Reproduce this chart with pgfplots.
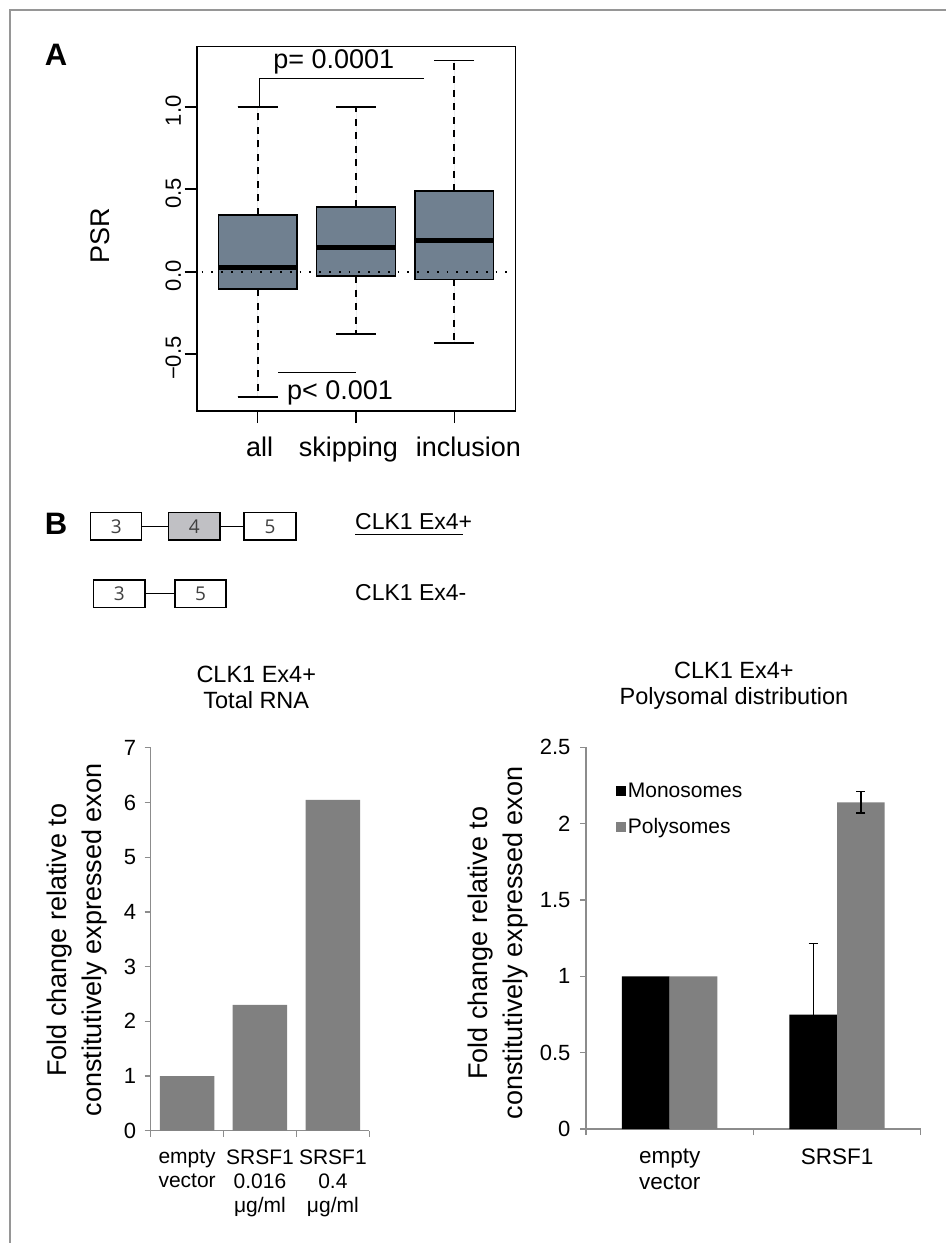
\documentclass[border=0pt]{standalone}
\usepackage{fontspec}
\setmainfont{Liberation Sans}
\newfontfamily\exonfont{Open Sans}
\usepackage{pgfplots}
\pgfplotsset{compat=1.18}
\usepgfplotslibrary{statistics}
\definecolor{slate}{RGB}{112,128,144}
\definecolor{bargray}{RGB}{128,128,128}
\definecolor{axgray}{RGB}{140,140,140}
\definecolor{exongray}{RGB}{192,192,196}
\definecolor{framegray}{RGB}{150,150,150}
\newcommand{\fs}[2]{\fontsize{#1bp}{#2bp}\selectfont}
\newcommand{\shifted}[2]{\makebox[0pt]{\hspace*{#1bp}#2\hspace*{-#1bp}}}
\pgfplotsset{ybar legend/.style={/pgfplots/legend image code/.code={\path[##1] (0bp,-5bp) rectangle (10bp,5bp);}}}

\begin{document}
\begin{tikzpicture}
\path[use as bounding box] (0bp,0bp) rectangle (946bp,-1243bp);
\draw[framegray, line width=1.5bp] (10bp,-1243bp) -- (10bp,-10bp) -- (946bp,-10bp);

% ---------------- Panel A ----------------
\node[font=\bfseries\fs{31}{31}] at (56bp,-55bp) {A};
\begin{axis}[
  at={(196.7bp,-411bp)}, anchor=south west,
  scale only axis, width=318.6bp, height=364.3bp,
  xmin=0.38, xmax=3.62, ymin=-0.844, ymax=1.364,
  axis line style={line width=1.6bp},
  xtick={1,2,3},
  xticklabels={\shifted{2}{all},\shifted{-7.5}{skipping},\shifted{14}{inclusion}},
  ytick={-0.5,0,0.5,1}, yticklabels={−0.5,0.0,0.5,1.0},
  tick align=outside, major tick length=12bp,
  tick style={line width=1.6bp, black},
  xtick pos=left, ytick pos=left,
  xticklabel style={font=\fs{27}{27}, yshift=-10bp},
  yticklabel style={font=\fs{22}{22}, rotate=90, anchor=south, xshift=-4bp},
  ylabel={PSR},
  ylabel style={font=\fs{27}{27}, at={(axis description cs:-0.303,0.48)}, anchor=center},
  boxplot/draw direction=y,
  clip=false,
]
\addplot[fill=slate, draw=black, line width=1.6bp,
  boxplot prepared={draw position=1, lower whisker=-0.758, lower quartile=-0.105,
    median=0.027, upper quartile=0.344, upper whisker=1.0, box extend=0.8, whisker extend=0.406},
  boxplot/every whisker/.style={dash pattern=on 7bp off 6.5bp, line width=1.7bp},
  boxplot/every median/.style={line width=5bp}] coordinates {};
\addplot[fill=slate, draw=black, line width=1.6bp,
  boxplot prepared={draw position=2, lower whisker=-0.378, lower quartile=-0.026,
    median=0.145, upper quartile=0.394, upper whisker=1.0, box extend=0.8, whisker extend=0.406},
  boxplot/every whisker/.style={dash pattern=on 7bp off 6.5bp, line width=1.7bp},
  boxplot/every median/.style={line width=5bp}] coordinates {};
\addplot[fill=slate, draw=black, line width=1.6bp,
  boxplot prepared={draw position=3, lower whisker=-0.432, lower quartile=-0.046,
    median=0.192, upper quartile=0.489, upper whisker=1.281, box extend=0.8, whisker extend=0.406},
  boxplot/every whisker/.style={dash pattern=on 7bp off 6.5bp, line width=1.7bp},
  boxplot/every median/.style={line width=5bp}] coordinates {};
% whisker caps (solid)
\addplot[black, line width=1.6bp] coordinates {(0.797,1.0) (1.203,1.0)};
\addplot[black, line width=1.6bp] coordinates {(0.797,-0.758) (1.203,-0.758)};
\addplot[black, line width=1.6bp] coordinates {(1.797,1.0) (2.203,1.0)};
\addplot[black, line width=1.6bp] coordinates {(1.797,-0.378) (2.203,-0.378)};
\addplot[black, line width=1.6bp] coordinates {(2.797,1.281) (3.203,1.281)};
\addplot[black, line width=1.6bp] coordinates {(2.797,-0.432) (3.203,-0.432)};
% zero reference line
\addplot[black, line width=1.8bp, dash pattern=on 1.8bp off 8bp] coordinates {(0.43,0) (3.6,0)};
% significance brackets
\addplot[black, line width=1.6bp] coordinates {(1.017,1.0) (1.017,1.172) (2.692,1.172)};
\addplot[black, line width=1.6bp] coordinates {(1.207,-0.61) (2.0,-0.61)};
\node[font=\fs{27}{27}] at (axis cs:1.774,1.271) {p= 0.0001};
\node[font=\fs{27}{27}] at (axis cs:1.837,-0.737) {p< 0.001};
\end{axis}

% ---------------- Panel B diagram ----------------
\node[font=\bfseries\fs{31}{31}] at (56bp,-524bp) {B};
\begin{scope}[line width=1.5bp]
\draw (141.7bp,-526.7bp) -- (168.3bp,-526.7bp);
\draw (220bp,-526.7bp) -- (244bp,-526.7bp);
\draw[fill=white] (90.7bp,-512.7bp) rectangle (141.7bp,-540bp);
\draw[fill=exongray] (168.3bp,-512.7bp) rectangle (220bp,-540bp);
\draw[fill=white] (244bp,-512.7bp) rectangle (296bp,-540bp);
\draw (145bp,-593.7bp) -- (175bp,-593.7bp);
\draw[fill=white] (93.3bp,-580bp) rectangle (145bp,-607.3bp);
\draw[fill=white] (175bp,-580bp) rectangle (226bp,-607.3bp);
\end{scope}
\begin{scope}[every node/.style={font=\exonfont\fs{19}{19}, text=black!75}]
\node at (116.2bp,-526.4bp) {3};
\node at (194.2bp,-526.4bp) {4};
\node at (270bp,-526.4bp) {5};
\node at (119.2bp,-593.7bp) {3};
\node at (200.5bp,-593.7bp) {5};
\end{scope}
\node[anchor=west, font=\fs{23}{23}, inner sep=0pt] at (355bp,-521.7bp) {CLK1 Ex4+};
\draw[line width=1.5bp] (355bp,-534.3bp) -- (463bp,-534.3bp);
\node[anchor=west, font=\fs{23}{23}, inner sep=0pt] at (355bp,-593bp) {CLK1 Ex4-};

% ---------------- Total RNA chart ----------------
\begin{axis}[
  at={(150.7bp,-1130.7bp)}, anchor=south west,
  scale only axis, width=218.6bp, height=382.9bp,
  xmin=0.5, xmax=3.5, ymin=0, ymax=7,
  ybar, bar width=54.5bp,
  axis x line*=bottom, axis y line*=left,
  axis line style={axgray, line width=1.3bp},
  tick align=outside, major tick length=6bp, minor tick length=6bp,
  tick style={axgray, line width=1.3bp},
  ytick={0,1,2,3,4,5,6,7}, yticklabels={0,1,2,3,4,5,6,7},
  xtick={1,2,3},
  xticklabels={{empty\\vector},{SRSF1\\0.016\\μg/ml},{SRSF1\\0.4\\μg/ml}},
  major x tick style={draw=none},
  minor xtick={0.5,1.5,2.5,3.5},
  yticklabel style={font=\fs{22}{22}, text=black, xshift=-5bp},
  xticklabel style={font=\fs{21}{24}, align=center, text=black, yshift=-10bp},
  ylabel={Fold change relative to\\constitutively expressed exon},
  ylabel style={at={(axis description cs:-0.335,0.498)}, anchor=center, align=center, font=\fs{27}{35}},
  title={CLK1 Ex4+\\Total RNA},
  title style={at={(axis description cs:0.483,1.143)}, anchor=center, align=center, font=\fs{23.5}{26}},
]
\addplot[fill=bargray, draw=none] coordinates {(1,1) (2,2.3) (3,6.05)};
\end{axis}

% ---------------- Polysomal chart ----------------
\begin{axis}[
  at={(586bp,-1129bp)}, anchor=south west,
  scale only axis, width=334.7bp, height=381.7bp,
  xmin=0.5, xmax=2.5, ymin=0, ymax=2.5,
  ybar=0pt, bar width=47.7bp,
  axis x line*=bottom, axis y line*=left,
  axis line style={axgray, line width=1.3bp},
  tick align=outside, major tick length=6bp, minor tick length=6bp,
  tick style={axgray, line width=1.3bp},
  ytick={0,0.5,1,1.5,2,2.5}, yticklabels={0,0.5,1,1.5,2,2.5},
  xtick={1,2}, xticklabels={{empty\\vector},{SRSF1}},
  major x tick style={draw=none},
  minor xtick={0.5,1.5,2.5},
  yticklabel style={font=\fs{22}{22}, text=black, xshift=-6bp},
  xticklabel style={font=\fs{22.5}{26.5}, align=center, text=black, yshift=-10bp},
  ylabel={Fold change relative to\\constitutively expressed exon},
  ylabel style={at={(axis description cs:-0.2614,0.487)}, anchor=center, align=center, font=\fs{27}{35}},
  title={CLK1 Ex4+\\Polysomal distribution},
  title style={at={(axis description cs:0.442,1.145)}, anchor=center, align=center, font=\fs{23.5}{26}},
  legend style={at={(axis description cs:0.0887,0.913)}, anchor=north west, draw=none, fill=none,
     font=\fs{21}{21}, row sep=16bp, inner sep=0pt},
  legend cell align=left,
]
\addplot[fill=black, draw=none] coordinates {(1,1) (2,0.75)};
\addplot[fill=bargray, draw=none] coordinates {(1,1) (2,2.14)};
\legend{Monosomes,Polysomes}
\end{axis}
\begin{axis}[
  at={(586bp,-1129bp)}, anchor=south west,
  scale only axis, width=334.7bp, height=381.7bp,
  xmin=0.5, xmax=2.5, ymin=0, ymax=2.5, hide axis,
]
\addplot[draw=none, mark=none,
  error bars/.cd, y dir=both, y explicit,
  error bar style={draw=black, line width=1.3bp},
  error mark options={rotate=90, mark size=4.5bp, draw=black, line width=1.3bp}]
  coordinates {(1.8575,0.75) +- (0,0.465) (2.1425,2.14) +- (0,0.07)};
\end{axis}
\end{tikzpicture}
\end{document}
